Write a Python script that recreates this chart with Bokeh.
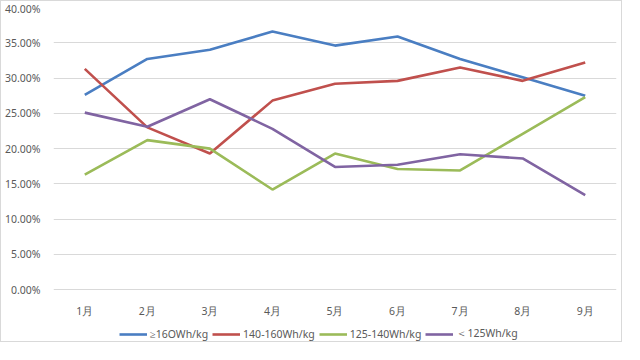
from bokeh.plotting import figure
from bokeh.models import FactorRange, Range1d, NumeralTickFormatter, FixedTicker, Legend, LegendItem
from bokeh.embed import file_html
from bokeh.resources import INLINE

months = ["1月", "2月", "3月", "4月", "5月", "6月", "7月", "8月", "9月"]
series_names = ["≥16OWh/kg", "140-160Wh/kg", "125-140Wh/kg", "＜125Wh/kg"]
s_ge160 = [0.276, 0.327, 0.340, 0.366, 0.346, 0.359, 0.327, 0.301, 0.275]
s_140_160 = [0.313, 0.230, 0.193, 0.268, 0.292, 0.296, 0.315, 0.296, 0.322]
s_125_140 = [0.163, 0.212, 0.200, 0.142, 0.193, 0.171, 0.169, 0.221, 0.273]
s_lt125 = [0.251, 0.231, 0.270, 0.228, 0.174, 0.177, 0.192, 0.186, 0.134]
y_ticks = [0.0, 0.05, 0.10, 0.15, 0.20, 0.25, 0.30, 0.35, 0.40]
colors = ["#4A7EC2", "#C0504D", "#9BBB59", "#8064A2"]

p = figure(width=622, height=342, x_range=FactorRange(*months, range_padding=0),
           y_range=Range1d(-0.0763, 0.40), output_backend="svg", toolbar_location=None,
           min_border_left=45, min_border_right=7, min_border_top=6, min_border_bottom=0,
           styles={"border": "1px solid #D9D9D9"})
p.outline_line_color = None
p.background_fill_color = "white"

items = []
for name, vals, c in zip(series_names, [s_ge160, s_140_160, s_125_140, s_lt125], colors):
    r = p.line(months, vals, line_color=c, line_width=2.6)
    items.append(LegendItem(label=name, renderers=[r]))

p.yaxis.ticker = FixedTicker(ticks=y_ticks)
p.yaxis.formatter = NumeralTickFormatter(format="0.00%")
p.xaxis.fixed_location = 0
for ax in (p.xaxis[0], p.yaxis[0]):
    ax.axis_line_color = None
    ax.major_tick_line_color = None
    ax.minor_tick_line_color = None
    ax.major_label_text_color = "#595959"
    ax.major_label_text_font = "Noto Sans"
    ax.major_label_text_font_size = "10.5px"
p.yaxis.major_label_standoff = 7
p.xaxis.major_label_standoff = 8
p.xgrid.grid_line_color = None
p.ygrid.grid_line_color = "#D9D9D9"
p.ygrid.grid_line_width = 1

legend = Legend(items=items, orientation="horizontal", location=(66, 2),
                label_text_font="Noto Sans", label_text_font_size="10.5px",
                label_text_color="#595959", glyph_width=28, glyph_height=10,
                spacing=4, label_standoff=3, border_line_color=None,
                background_fill_alpha=0, padding=2, margin=0)
p.add_layout(legend, "center")

open("out.html", "w").write(file_html(p, INLINE))
